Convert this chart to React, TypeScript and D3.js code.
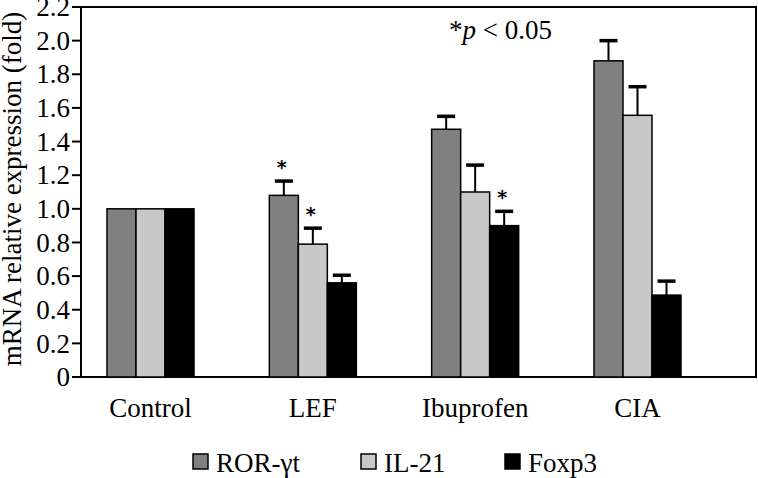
import React from "react";
import * as d3 from "d3";

const groups = ["Control", "LEF", "Ibuprofen", "CIA"];
const seriesNames = ["ROR-γt", "IL-21", "Foxp3"];
const seriesColors = ["#808080", "#c8c8c8", "#000000"];
const rorMeans = [1.0, 1.08, 1.473, 1.88];
const rorErr = [0, 1.165, 1.55, 2.0];
const il21Means = [1.0, 0.79, 1.1, 1.556];
const il21Err = [0, 0.885, 1.26, 1.726];
const foxMeans = [1.0, 0.56, 0.9, 0.487];
const foxErr = [0, 0.605, 0.985, 0.57];
const stars = [
  [0, 1, 0, 0],
  [0, 1, 0, 0],
  [0, 0, 1, 0],
];
const yTicks = [0, 0.2, 0.4, 0.6, 0.8, 1.0, 1.2, 1.4, 1.6, 1.8, 2.0, 2.2];

const means = [rorMeans, il21Means, foxMeans];
const errs = [rorErr, il21Err, foxErr];

export default function App() {
  const W = 758, H = 478;
  const left = 81, right = 756, top = 7, bottom = 377;
  const y = d3.scaleLinear().domain([0, 2.2]).range([bottom, top]);
  const x = d3.scaleBand().domain(groups).range([107, 681]).paddingInner(0.464).paddingOuter(0);
  const xs = d3.scaleBand().domain(seriesNames).range([0, x.bandwidth()]);
  const font = "'Liberation Serif', 'Times New Roman', serif";
  const fs = 27;
  const fmt = (v: number) => (v === 0 ? "0" : d3.format(".1f")(v));

  return (
    <svg width={W} height={H} style={{ position: "absolute", left: 0, top: 0, background: "#fff" }}>
      {/* frame */}
      <rect x={left} y={top} width={right - left} height={bottom - top} fill="none" stroke="#000" strokeWidth={2} />
      {/* y ticks */}
      {yTicks.map((t) => (
        <g key={t}>
          <line x1={left - 9} x2={left} y1={y(t)} y2={y(t)} stroke="#000" strokeWidth={2} />
          <text x={left - 11} y={y(t)} dy="0.34em" textAnchor="end" fontFamily={font} fontSize={fs}>
            {fmt(t)}
          </text>
        </g>
      ))}
      {/* y title */}
      <text
        transform={`translate(21,${(top + bottom) / 2 - 3}) rotate(-90)`}
        textAnchor="middle"
        fontFamily={font}
        fontSize={fs}
      >
        mRNA relative expression (fold)
      </text>
      {/* bars */}
      {seriesNames.map((s, si) =>
        groups.map((g, gi) => {
          const bx = (x(g) as number) + (xs(s) as number);
          const bw = xs.bandwidth();
          const v = means[si][gi];
          const e = errs[si][gi];
          const cx = bx + bw / 2;
          return (
            <g key={s + g}>
              {e > v && (
                <g>
                  <line x1={cx} x2={cx} y1={y(v)} y2={y(e)} stroke="#000" strokeWidth={2} />
                  <line x1={cx - 9} x2={cx + 9} y1={y(e)} y2={y(e)} stroke="#000" strokeWidth={3.5} />
                </g>
              )}
              <rect x={bx} y={y(v)} width={bw} height={y(0) - y(v)} fill={seriesColors[si]} stroke="#000" strokeWidth={1.5} />
              {stars[si][gi] === 1 && (
                <text x={cx - 2} y={y(e) - 7} textAnchor="middle" fontFamily="'DejaVu Sans', sans-serif" fontWeight="bold" fontSize={19}>
                  *
                </text>
              )}
            </g>
          );
        })
      )}
      {/* x labels */}
      {groups.map((g) => (
        <text key={g} x={(x(g) as number) + x.bandwidth() / 2} y={417} textAnchor="middle" fontFamily={font} fontSize={fs}>
          {g}
        </text>
      ))}
      {/* annotation */}
      <text x={449} y={39} fontFamily={font} fontSize={fs}>
        *<tspan fontStyle="italic">p</tspan> {"<"} 0.05
      </text>
      {/* legend */}
      {seriesNames.map((s, i) => {
        const lx = [193, 361, 505][i];
        return (
          <g key={s}>
            <rect x={lx} y={454} width={15} height={15} fill={seriesColors[i]} stroke="#000" strokeWidth={1.5} />
            <text x={lx + 23} y={472} fontFamily={font} fontSize={fs}>
              {s}
            </text>
          </g>
        );
      })}
    </svg>
  );
}
